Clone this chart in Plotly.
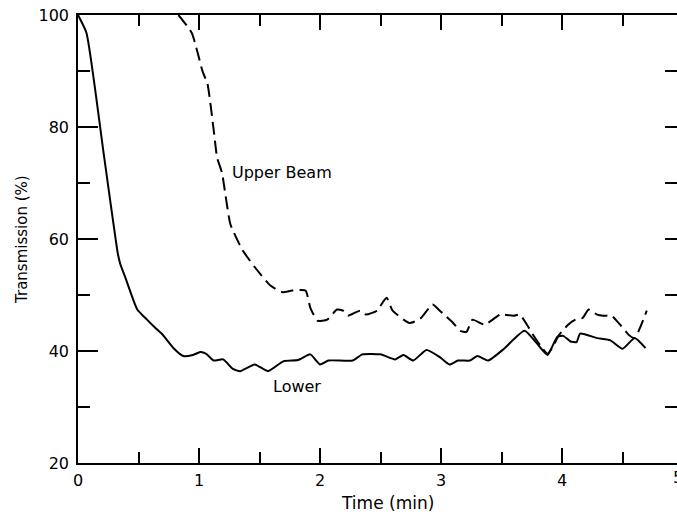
import plotly.graph_objects as go

# ---- data ----
lower_t = [0, 0.07, 0.21, 0.33, 0.35, 0.39, 0.49, 0.57, 0.64, 0.70, 0.79, 0.87, 0.95, 1.01, 1.06,
           1.12, 1.20, 1.28, 1.34, 1.46, 1.57, 1.70, 1.82, 1.92, 2.00, 2.07, 2.27, 2.35, 2.50,
           2.62, 2.69, 2.77, 2.88, 2.99, 3.07, 3.14, 3.24, 3.30, 3.39, 3.51, 3.69, 3.79, 3.88,
           3.96, 4.01, 4.07, 4.12, 4.15, 4.29, 4.40, 4.50, 4.60, 4.69]
lower_v = [100, 96.8, 75.6, 57.3, 55.5, 53.2, 47.4, 45.6, 44.1, 42.9, 40.5, 39.1, 39.3, 39.8, 39.5,
           38.3, 38.5, 36.8, 36.4, 37.6, 36.4, 38.2, 38.4, 39.4, 37.6, 38.3, 38.3, 39.4, 39.4,
           38.5, 39.3, 38.3, 40.2, 38.9, 37.6, 38.3, 38.3, 39.1, 38.3, 40.2, 43.6, 41.4, 39.3,
           42.5, 42.7, 41.7, 41.6, 43.1, 42.3, 41.9, 40.4, 42.3, 40.5]

upper_t = [0.83, 0.94, 1.03, 1.07, 1.12, 1.15, 1.19, 1.26, 1.36, 1.46, 1.59, 1.69, 1.77, 1.88,
           1.92, 1.98, 2.06, 2.14, 2.19, 2.23, 2.33, 2.38, 2.47, 2.55, 2.60, 2.74, 2.83, 2.93,
           2.99, 3.10, 3.16, 3.21, 3.26, 3.36, 3.49, 3.60, 3.65, 3.71, 3.76, 3.82, 3.88, 3.93,
           3.97, 4.05, 4.11, 4.17, 4.22, 4.29, 4.34, 4.41, 4.48, 4.55, 4.60, 4.70]
upper_v = [100, 96.8, 89.9, 87.7, 79.7, 74.5, 71.8, 62.6, 58.0, 55.0, 51.7, 50.5, 50.8, 50.8,
           47.7, 45.4, 45.6, 47.4, 47.2, 46.3, 47.2, 46.5, 47.2, 49.5, 47.2, 45.0, 45.8, 48.3,
           47.2, 45.0, 43.6, 43.4, 45.6, 44.7, 46.5, 46.3, 46.5, 44.7, 42.9, 41.0, 39.5, 41.0,
           42.7, 44.7, 45.6, 45.9, 47.4, 46.5, 46.3, 46.3, 44.7, 42.9, 42.3, 47.2]

x_ticks = [0, 1, 2, 3, 4]
x_tick_labels = ["0", "1", "2", "3", "4"]
y_ticks = [20, 40, 60, 80, 100]
y_tick_labels = ["20", "40", "60", "80", "100"]

FONT = "DejaVu Sans"

fig = go.Figure()
fig.add_trace(go.Scatter(x=lower_t, y=lower_v, mode="lines",
                         line=dict(color="black", width=2, shape="spline", smoothing=0.5),
                         showlegend=False, hoverinfo="skip"))
fig.add_trace(go.Scatter(x=upper_t, y=upper_v, mode="lines",
                         line=dict(color="black", width=2, dash="13px,6px",
                                   shape="spline", smoothing=0.5),
                         showlegend=False, hoverinfo="skip"))
# invisible trace to carry the right-hand tick axis
fig.add_trace(go.Scatter(x=lower_t, y=lower_v, mode="lines", yaxis="y2", opacity=0,
                         line=dict(color="black", width=0), showlegend=False, hoverinfo="skip"))

fig.update_layout(
    width=677, height=515,
    margin=dict(l=78, r=0, t=15, b=52),
    paper_bgcolor="white", plot_bgcolor="white",
    font=dict(family=FONT, color="black", size=16),
    xaxis=dict(range=[0, 4.95], showgrid=False, zeroline=False,
               showline=True, linecolor="black", linewidth=1.6, mirror="ticks",
               ticks="inside", ticklen=15, tickwidth=1.5, tickcolor="black",
               tickvals=x_ticks, ticktext=x_tick_labels, ticklabelstandoff=2,
               minor=dict(dtick=0.5, ticks="inside", ticklen=11, tickwidth=1.5, tickcolor="black"),
               tickfont=dict(size=16)),
    yaxis=dict(range=[20, 100], showgrid=False, zeroline=False,
               showline=True, linecolor="black", linewidth=1.6, mirror=False,
               ticks="inside", ticklen=20, tickwidth=1.5, tickcolor="black",
               tickvals=y_ticks, ticktext=y_tick_labels, ticklabelstandoff=4,
               minor=dict(dtick=10, ticks="inside", ticklen=12, tickwidth=1.5, tickcolor="black"),
               tickfont=dict(size=16)),
    yaxis2=dict(range=[20, 100], overlaying="y", side="right", anchor="x",
                showgrid=False, zeroline=False, showline=False,
                ticks="inside", ticklen=12, tickwidth=1.5, tickcolor="black",
                tickvals=y_ticks, showticklabels=False,
                minor=dict(dtick=10, ticks="inside", ticklen=12, tickwidth=1.5, tickcolor="black")),
)

fig.add_annotation(text="Upper Beam", x=1.26, y=71.8, xref="x", yref="y",
                   xanchor="left", yanchor="middle", showarrow=False,
                   font=dict(family=FONT, size=16, color="black"))
fig.add_annotation(text="Lower", x=1.81, y=33.6, xref="x", yref="y",
                   xanchor="center", yanchor="middle", showarrow=False,
                   font=dict(family=FONT, size=16, color="black"))
fig.add_annotation(text="Time (min)", x=0.5175, y=-0.089, xref="paper", yref="paper",
                   xanchor="center", yanchor="middle", showarrow=False,
                   font=dict(family=FONT, size=17, color="black"))
fig.add_annotation(text="Transmission (%)", x=-0.0935, y=0.5, xref="paper", yref="paper",
                   xanchor="center", yanchor="middle", textangle=-90, showarrow=False,
                   font=dict(family=FONT, size=15, color="black"))
fig.add_annotation(text="5", x=1, y=-0.032, xref="paper", yref="paper",
                   xanchor="left", yanchor="middle", xshift=-6, showarrow=False,
                   font=dict(family=FONT, size=16, color="black"))

fig.write_html("out.html")
